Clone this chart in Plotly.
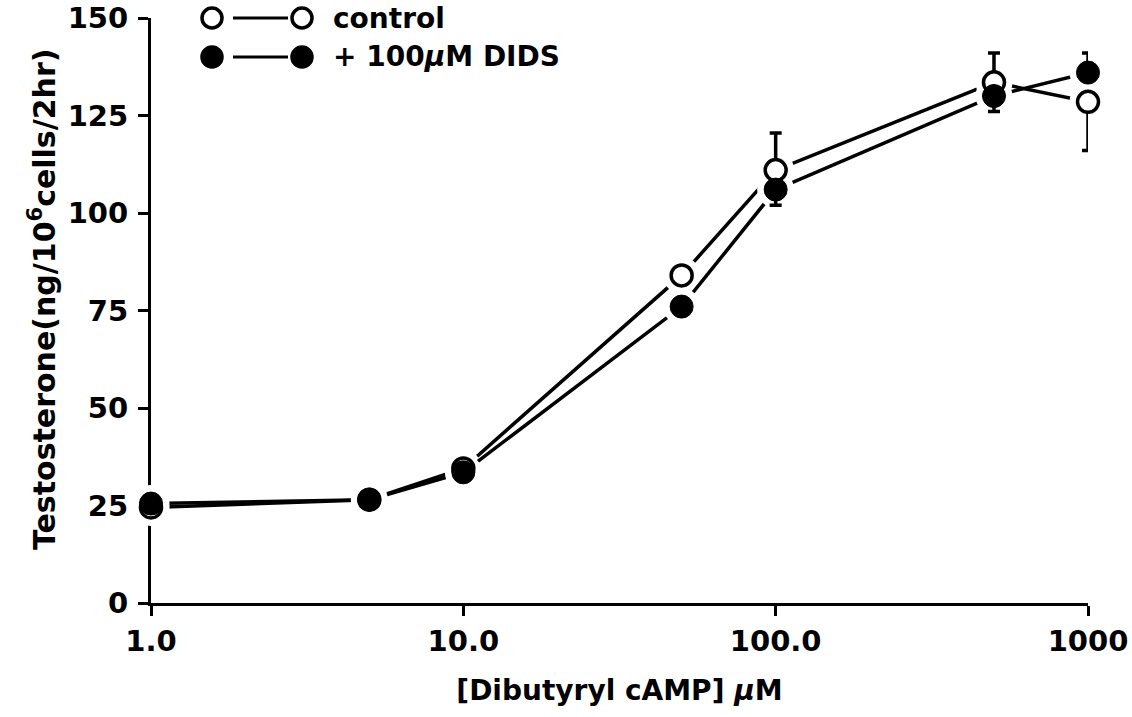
import plotly.graph_objects as go

# ---- data ----
conc = [1, 5, 10, 50, 100, 500, 1000]
control = [24.5, 26.5, 34.5, 84, 111, 133.5, 128.5]
control_err_up = [0, 0, 0, 0, 9.5, 7.5, 0]
control_err_down = [0, 0, 0, 0, 0, 0, 12.5]
dids = [25.5, 26.5, 33.5, 76, 106, 130, 136]
dids_err_up = [0, 0, 0, 0, 0, 0, 5]
dids_err_down = [0, 0, 0, 0, 4, 4, 0]

x_tickvals = [1, 10, 100, 1000]
x_ticktext = ["1.0", "10.0", "100.0", "1000"]
y_tickvals = [0, 25, 50, 75, 100, 125, 150]

series_names = ["control", "+ 100<i>μ</i>M DIDS"]
x_title = "[Dibutyryl cAMP] <i>μ</i>M"
y_title = "Testosterone(ng/10<sup>6</sup>cells/2hr)"

FONT = "DejaVu Sans"
BLACK = "black"
HALO = "white"

fig = go.Figure()

# connecting lines with white halo markers (gaps between lines and symbols)
for ys in (control, dids):
    fig.add_trace(go.Scatter(x=conc, y=ys, mode="lines+markers",
                             line=dict(color=BLACK, width=3.5),
                             marker=dict(symbol="circle", size=37, color=HALO,
                                         line=dict(width=0, color=HALO)),
                             showlegend=False, hoverinfo="skip", cliponaxis=False))

# open markers (control)
fig.add_trace(go.Scatter(
    x=conc, y=control, mode="markers", name="control",
    marker=dict(symbol="circle", size=21, color="white", line=dict(color=BLACK, width=3.5)),
    error_y=dict(type="data", symmetric=False, array=control_err_up,
                 arrayminus=control_err_down, color=BLACK, thickness=3.5, width=6),
    showlegend=False, cliponaxis=False))

# filled markers (DIDS)
fig.add_trace(go.Scatter(
    x=conc, y=dids, mode="markers", name="DIDS",
    marker=dict(symbol="circle", size=23, color=BLACK, line=dict(color=BLACK, width=1)),
    error_y=dict(type="data", symmetric=False, array=dids_err_up,
                 arrayminus=dids_err_down, color=BLACK, thickness=3.5, width=6),
    showlegend=False, cliponaxis=False))

# ---- custom legend (paper coords) ----
W, H = 937.0, 585.0
def px_x(p):
    return (p - 151) / W
def px_y(p):
    return (603 - p) / H

shapes = []
rows = [(18, "white", series_names[0]), (57, BLACK, series_names[1])]
annotations = []
for py, fill, label in rows:
    yc = px_y(py)
    for cx in (212, 302):
        shapes.append(dict(type="circle", xref="paper", yref="paper",
                           xsizemode="pixel", ysizemode="pixel",
                           xanchor=px_x(cx), yanchor=yc,
                           x0=-10, x1=10, y0=-10, y1=10,
                           fillcolor=fill, line=dict(color=BLACK, width=3.5)))
    shapes.append(dict(type="line", xref="paper", yref="paper",
                       x0=px_x(233), x1=px_x(288), y0=yc, y1=yc,
                       line=dict(color=BLACK, width=3)))
    annotations.append(dict(text="<b>%s</b>" % label, xref="paper", yref="paper",
                            x=px_x(331), y=yc, xanchor="left", yanchor="middle",
                            showarrow=False, font=dict(family=FONT, size=28, color=BLACK)))

# y-axis title as rotated annotation (exact placement)
annotations.append(dict(text="<b>%s</b>" % y_title, xref="paper", yref="paper",
                        x=px_x(42), y=px_y(300), xanchor="center", yanchor="middle",
                        textangle=-90, showarrow=False,
                        font=dict(family=FONT, size=30, color=BLACK)))

fig.update_layout(
    width=1132, height=717,
    margin=dict(l=151, r=44, t=18, b=114, autoexpand=False),
    paper_bgcolor="white", plot_bgcolor="white",
    font=dict(family=FONT, size=28, color=BLACK),
    shapes=shapes, annotations=annotations,
    showlegend=False,
    xaxis=dict(
        type="log", range=[0, 3],
        tickvals=x_tickvals, ticktext=["<b>%s</b>" % t for t in x_ticktext],
        ticks="outside", ticklen=10, tickwidth=3, tickcolor=BLACK,
        showline=True, linewidth=3, linecolor=BLACK,
        showgrid=False, zeroline=False, automargin=False,
        tickfont=dict(family=FONT, size=29, color=BLACK),
        title=dict(text="<b>%s</b>" % x_title, standoff=24,
                   font=dict(family=FONT, size=28, color=BLACK)),
        layer="below traces",
    ),
    yaxis=dict(
        range=[0, 150],
        tickvals=y_tickvals, ticktext=["<b>%d</b>" % v for v in y_tickvals],
        ticks="outside", ticklen=10, tickwidth=3, tickcolor=BLACK,
        ticklabelstandoff=4,
        showline=True, linewidth=3, linecolor=BLACK,
        showgrid=False, zeroline=False, automargin=False,
        tickfont=dict(family=FONT, size=29, color=BLACK),
        layer="below traces",
    ),
)

fig.write_html("out.html", config={"displayModeBar": False},
               post_script="document.body.style.margin='0';")
